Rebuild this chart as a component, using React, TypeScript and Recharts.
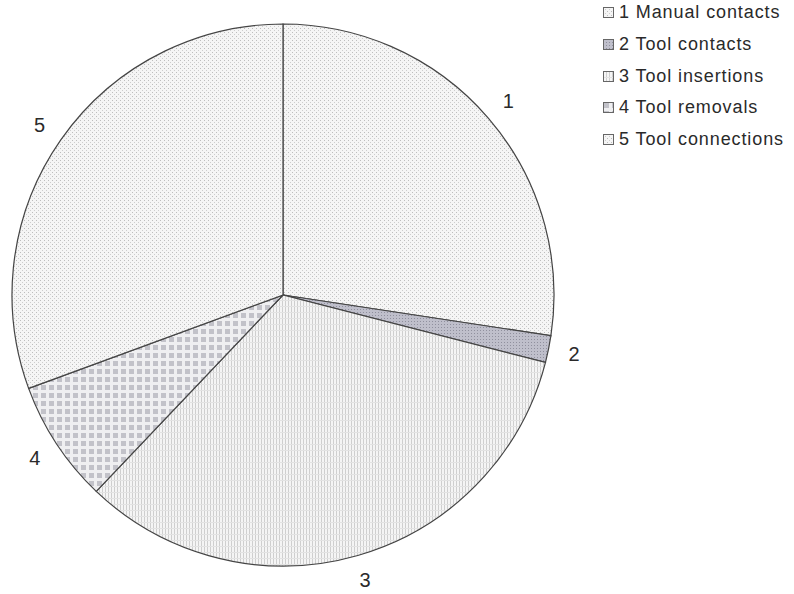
import { PieChart, Pie, Cell, Legend } from "recharts";

// Share of each handling type, in percent, going clockwise from 12 o'clock
const sliceIds = ["1", "2", "3", "4", "5"];
const sliceNames = [
  "Manual contacts",
  "Tool contacts",
  "Tool insertions",
  "Tool removals",
  "Tool connections",
];
const shares = [27.4, 1.6, 33.1, 7.3, 30.6];

const fills = [
  "url(#dots)",
  "url(#darkDots)",
  "url(#vlines)",
  "url(#checks)",
  "url(#dots)",
];

const data = sliceIds.map((id, i) => ({
  id,
  name: `${id} ${sliceNames[i]}`,
  value: shares[i],
}));

const FONT = "'Liberation Sans', Arial, Helvetica, sans-serif";
const RADIAN = Math.PI / 180;

function Patterns() {
  return (
    <svg width={0} height={0} style={{ position: "absolute" }}>
      <defs>
        <pattern id="dots" width={4} height={4} patternUnits="userSpaceOnUse">
          <rect width={4} height={4} fill="#f5f5f5" />
          <rect x={0} y={0} width={1} height={1} fill="#bdbdbd" />
          <rect x={2} y={2} width={1} height={1} fill="#cdcdcd" />
        </pattern>
        <pattern id="darkDots" width={3} height={3} patternUnits="userSpaceOnUse">
          <rect width={3} height={3} fill="#bfbfcb" />
          <rect x={0} y={0} width={1} height={1} fill="#90909e" />
        </pattern>
        <pattern id="vlines" width={3} height={6} patternUnits="userSpaceOnUse">
          <rect width={3} height={6} fill="#f5f5f5" />
          <rect x={0} y={0} width={1} height={6} fill="#cfcfcf" />
          <rect x={0} y={0} width={3} height={1} fill="#e3e3e3" />
        </pattern>
        <pattern id="checks" width={8} height={8} patternUnits="userSpaceOnUse">
          <rect width={8} height={8} fill="#efeff1" />
          <rect x={1} y={1} width={5} height={5} fill="#c2c2c9" />
        </pattern>
      </defs>
    </svg>
  );
}

function renderLabel(props: any) {
  const { cx, cy, midAngle, outerRadius, index } = props;
  const r = outerRadius + 26;
  const x = cx + r * Math.cos(-midAngle * RADIAN);
  const y = cy + r * Math.sin(-midAngle * RADIAN);
  return (
    <text
      x={x}
      y={y}
      fill="#2a2a2a"
      fontSize={20}
      fontFamily={FONT}
      textAnchor="middle"
      dominantBaseline="central"
    >
      {sliceIds[index]}
    </text>
  );
}

function LegendList() {
  return (
    <div style={{ fontFamily: FONT, fontSize: 18, color: "#2a2a2a", letterSpacing: 0.9 }}>
      {data.map((d, i) => (
        <div
          key={d.id}
          style={{ display: "flex", alignItems: "center", height: 31.7, whiteSpace: "nowrap" }}
        >
          <svg width={11} height={11} style={{ marginRight: 5 }}>
            <rect x={0.5} y={0.5} width={10} height={10} fill={fills[i]} stroke="#666" />
          </svg>
          {d.name}
        </div>
      ))}
    </div>
  );
}

export default function App() {
  return (
    <div style={{ position: "absolute", left: 0, top: 0, width: 794, height: 594, background: "#fff" }}>
      <Patterns />
      <PieChart width={794} height={594} margin={{ top: 0, right: 0, bottom: 0, left: 0 }}>
        <Pie
          data={data}
          dataKey="value"
          nameKey="name"
          cx={283}
          cy={295}
          outerRadius={271}
          startAngle={90}
          endAngle={-270}
          stroke="#444"
          strokeWidth={1.2}
          labelLine={false}
          label={renderLabel}
          isAnimationActive={false}
        >
          {data.map((d, i) => (
            <Cell key={d.id} fill={fills[i]} />
          ))}
        </Pie>
        <Legend
          layout="vertical"
          content={() => <LegendList />}
          wrapperStyle={{ position: "absolute", left: 603, top: -3, width: 191 }}
        />
      </PieChart>
    </div>
  );
}
